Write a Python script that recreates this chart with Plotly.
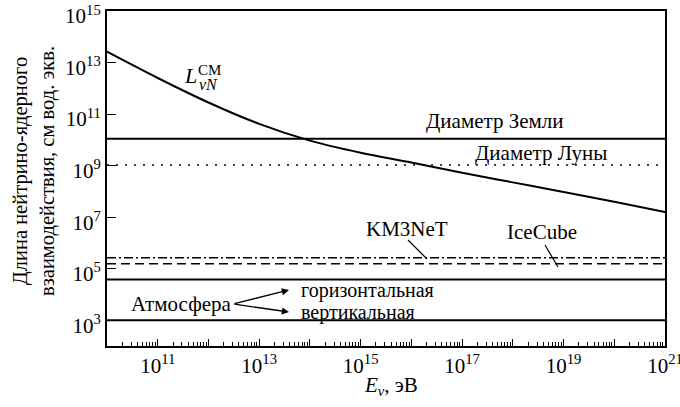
import plotly.graph_objects as go

# ---- data ----
curve_log_e = [10, 11, 12, 13, 14, 15, 16, 17, 18, 19, 20, 21]
curve_log_l = [13.42, 12.4, 11.45, 10.62, 9.97, 9.5, 9.12, 8.72, 8.35, 7.98, 7.6, 7.2]

x_min, x_max = 1e10, 1e21
earth_diam = 1.1e10
moon_diam = 1.05e9
km3net = 2.65e5
icecube = 1.55e5
atm_horizontal = 3.8e4
atm_vertical = 1.0e3

x_tick_exps = list(range(10, 22))
y_tick_exps = [3, 5, 7, 9, 11, 13, 15]

FONT = "Liberation Serif, Times New Roman, DejaVu Serif, serif"
TS = 21  # text size

# plot area in pixels
L, R, T, B = 107, 665, 11, 346
W, H = 680, 407


def P(x):
    return (x - L) / (R - L)


def Q(y):
    return (B - y) / (B - T)


fig = go.Figure()

fig.add_trace(go.Scatter(
    x=[10.0 ** v for v in curve_log_e], y=[10.0 ** v for v in curve_log_l],
    mode="lines", line=dict(color="black", width=2, shape="spline"),
    showlegend=False))

hlines = [
    (earth_diam, "solid"),
    (moon_diam, "2px,7px"),
    (km3net, "9px,3px,2px,3px"),
    (icecube, "9px,5px"),
    (atm_horizontal, "solid"),
    (atm_vertical, "solid"),
]
for val, dash in hlines:
    fig.add_trace(go.Scatter(
        x=[x_min, x_max], y=[val, val], mode="lines",
        line=dict(color="black", width=2 if dash == "solid" else 1.6, dash=dash),
        showlegend=False))

x_tickvals = [10.0 ** e for e in x_tick_exps]
x_ticktext = [f"10<sup>{e}</sup>" if e % 2 == 1 else "" for e in x_tick_exps]
x_minor = [k * 10.0 ** e for e in x_tick_exps[:-1] for k in range(2, 10)]

y_tickvals = [10.0 ** e for e in y_tick_exps]
y_ticktext = [f"10<sup>{e}</sup>" for e in y_tick_exps]

fig.update_layout(
    template="none",
    width=W, height=H,
    margin=dict(l=L, r=W - R, t=T, b=H - B, autoexpand=False),
    paper_bgcolor="white", plot_bgcolor="white",
    font=dict(family=FONT, color="black", size=TS),
    xaxis=dict(type="log", range=[10, 21.0002], showgrid=False, zeroline=False,
               automargin=False,
               showline=True, linecolor="black", linewidth=2, mirror=True,
               ticks="inside", ticklen=7, tickwidth=1.3, tickcolor="black",
               tickvals=x_tickvals, ticktext=x_ticktext, ticklabeloverflow="allow",
               tickfont=dict(size=TS, family=FONT),
               minor=dict(tickvals=x_minor, ticks="inside", ticklen=4,
                          tickwidth=1.2, tickcolor="black", showgrid=False)),
    yaxis=dict(type="log", range=[2, 15.0002], showgrid=False, zeroline=False,
               automargin=False,
               showline=True, linecolor="black", linewidth=2, mirror=True,
               ticks="inside", ticklen=9, tickwidth=1.3, tickcolor="black",
               tickvals=y_tickvals, ticktext=y_ticktext, ticklabeloverflow="allow",
               ticklabelshift=5,
               tickfont=dict(size=TS, family=FONT)),
)

ann = []


def text(x, y, s, size=TS, xanchor="center", yanchor="middle", angle=0):
    ann.append(dict(x=P(x), y=Q(y), xref="paper", yref="paper", text=s,
                    showarrow=False, xanchor=xanchor, yanchor=yanchor,
                    textangle=angle, font=dict(size=size, family=FONT, color="black")))


text(495, 121, "Диаметр Земли")
text(541, 153, "Диаметр Луны")
text(407, 229, "KM3NeT")
text(542, 232, "IceCube")
text(181, 304, "Атмосфера")
text(299, 290, "горизонтальная", size=20, xanchor="left")
text(299, 312, "вертикальная", size=20, xanchor="left")

text(190, 75, "<i>L</i>", size=22)
text(209, 70, "CM", size=15)
text(208, 85, "<i>νN</i>", size=16)

text(34, 171, "Длина нейтрино-ядерного<br>взаимодействия, см вод. экв.", size=20.5, angle=-90)
text(391, 386, "<i>E</i><sub><i>ν</i></sub>, эВ", size=TS)

# arrows
for hx, hy in [(289, 290), (289, 312)]:
    ann.append(dict(x=P(hx), y=Q(hy), xref="paper", yref="paper", text="",
                    showarrow=True, ax=233 - hx, ay=304 - hy, axref="pixel", ayref="pixel",
                    arrowhead=2, arrowsize=1.1, arrowwidth=1.3, arrowcolor="black",
                    standoff=0, startstandoff=0))

fig.update_layout(annotations=ann)

# leader lines
for x0, y0, x1, y1 in [(408, 240, 427, 259), (545, 245, 558, 267)]:
    fig.add_shape(type="line", xref="paper", yref="paper",
                  x0=P(x0), y0=Q(y0), x1=P(x1), y1=Q(y1),
                  line=dict(color="black", width=1.2))

fig.write_html("out.html", config={"displayModeBar": False},
               post_script="document.body.style.margin='0';")
